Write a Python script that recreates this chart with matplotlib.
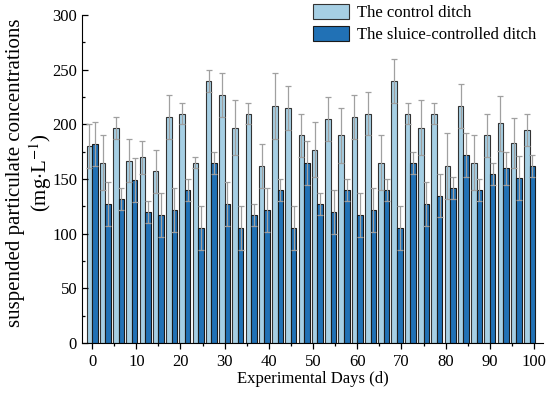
import numpy as np
import matplotlib
matplotlib.use("Agg")
import matplotlib.pyplot as plt
from matplotlib.ticker import MultipleLocator

plt.rcParams['font.family'] = ['Liberation Serif', 'DejaVu Serif']
plt.rcParams['mathtext.fontset'] = 'stix'

# sampling days (every 3 days)
days = list(range(0, 100, 3))

control = [180, 165, 197, 167, 170, 157, 207, 210, 165, 240, 227, 197,
           210, 162, 217, 215, 190, 177, 205, 190, 207, 210, 165, 240,
           210, 197, 210, 162, 217, 165, 190, 201, 183, 195]
control_err = [20, 25, 10, 20, 15, 20, 20, 10, 5, 10, 20, 25,
               10, 20, 30, 20, 20, 25, 20, 25, 20, 20, 25, 20,
               10, 25, 10, 30, 20, 25, 20, 25, 23, 15]

sluice = [182, 127, 132, 149, 120, 117, 122, 140, 105, 165, 127, 105,
          117, 122, 140, 105, 165, 127, 120, 140, 117, 122, 140, 105,
          165, 127, 135, 142, 172, 140, 155, 160, 151, 162]
sluice_err = [20, 20, 10, 20, 10, 20, 20, 10, 20, 10, 20, 20,
              10, 20, 10, 20, 20, 10, 20, 10, 20, 20, 10, 20,
              10, 20, 20, 10, 20, 10, 10, 15, 20, 10]

x = np.array(days, dtype=float)
w = 1.25

fig = plt.figure(figsize=(5.5, 3.99), dpi=100)
ax = fig.add_axes([0.149, 0.14, 0.838, 0.822])

err_kw = dict(ecolor='#a0a0a0', elinewidth=0.9, capsize=2.5, capthick=0.9)
ax.bar(x - w / 2, control, w, yerr=control_err, color='#a6cfe4',
       edgecolor='#333333', linewidth=0.8, error_kw=err_kw,
       label='The control ditch')
ax.bar(x + w / 2, sluice, w, yerr=sluice_err, color='#2171b5',
       edgecolor='#1a1a1a', linewidth=0.8, error_kw=err_kw,
       label='The sluice-controlled ditch')

ax.set_xlim(-2.3, 102)
ax.set_ylim(0, 300)
ax.xaxis.set_major_locator(MultipleLocator(10))
ax.xaxis.set_minor_locator(MultipleLocator(5))
ax.yaxis.set_major_locator(MultipleLocator(50))
ax.yaxis.set_minor_locator(MultipleLocator(25))
ax.tick_params(which='major', length=4, width=0.9, labelsize=12)
ax.tick_params(which='minor', length=2.5, width=0.9)
ax.tick_params(axis='x', which='both', direction='out')
ax.tick_params(axis='y', which='both', direction='in')
ax.spines['top'].set_visible(False)
ax.spines['right'].set_visible(False)

ax.set_xlabel('Experimental Days (d)', fontsize=12, labelpad=1)
ax.set_ylabel('suspended particulate concentrations\n(mg$\\cdot$L$^{-1}$)',
              fontsize=15, linespacing=1.1, va='center')
ax.yaxis.set_label_coords(-0.113, 0.52)

ax.legend(loc='upper right', bbox_to_anchor=(1.0, 1.055), frameon=False,
          fontsize=12, handlelength=2.2, handleheight=1.0,
          handletextpad=0.45, labelspacing=0.3, borderaxespad=0)

fig.savefig('out.png', dpi=100)
